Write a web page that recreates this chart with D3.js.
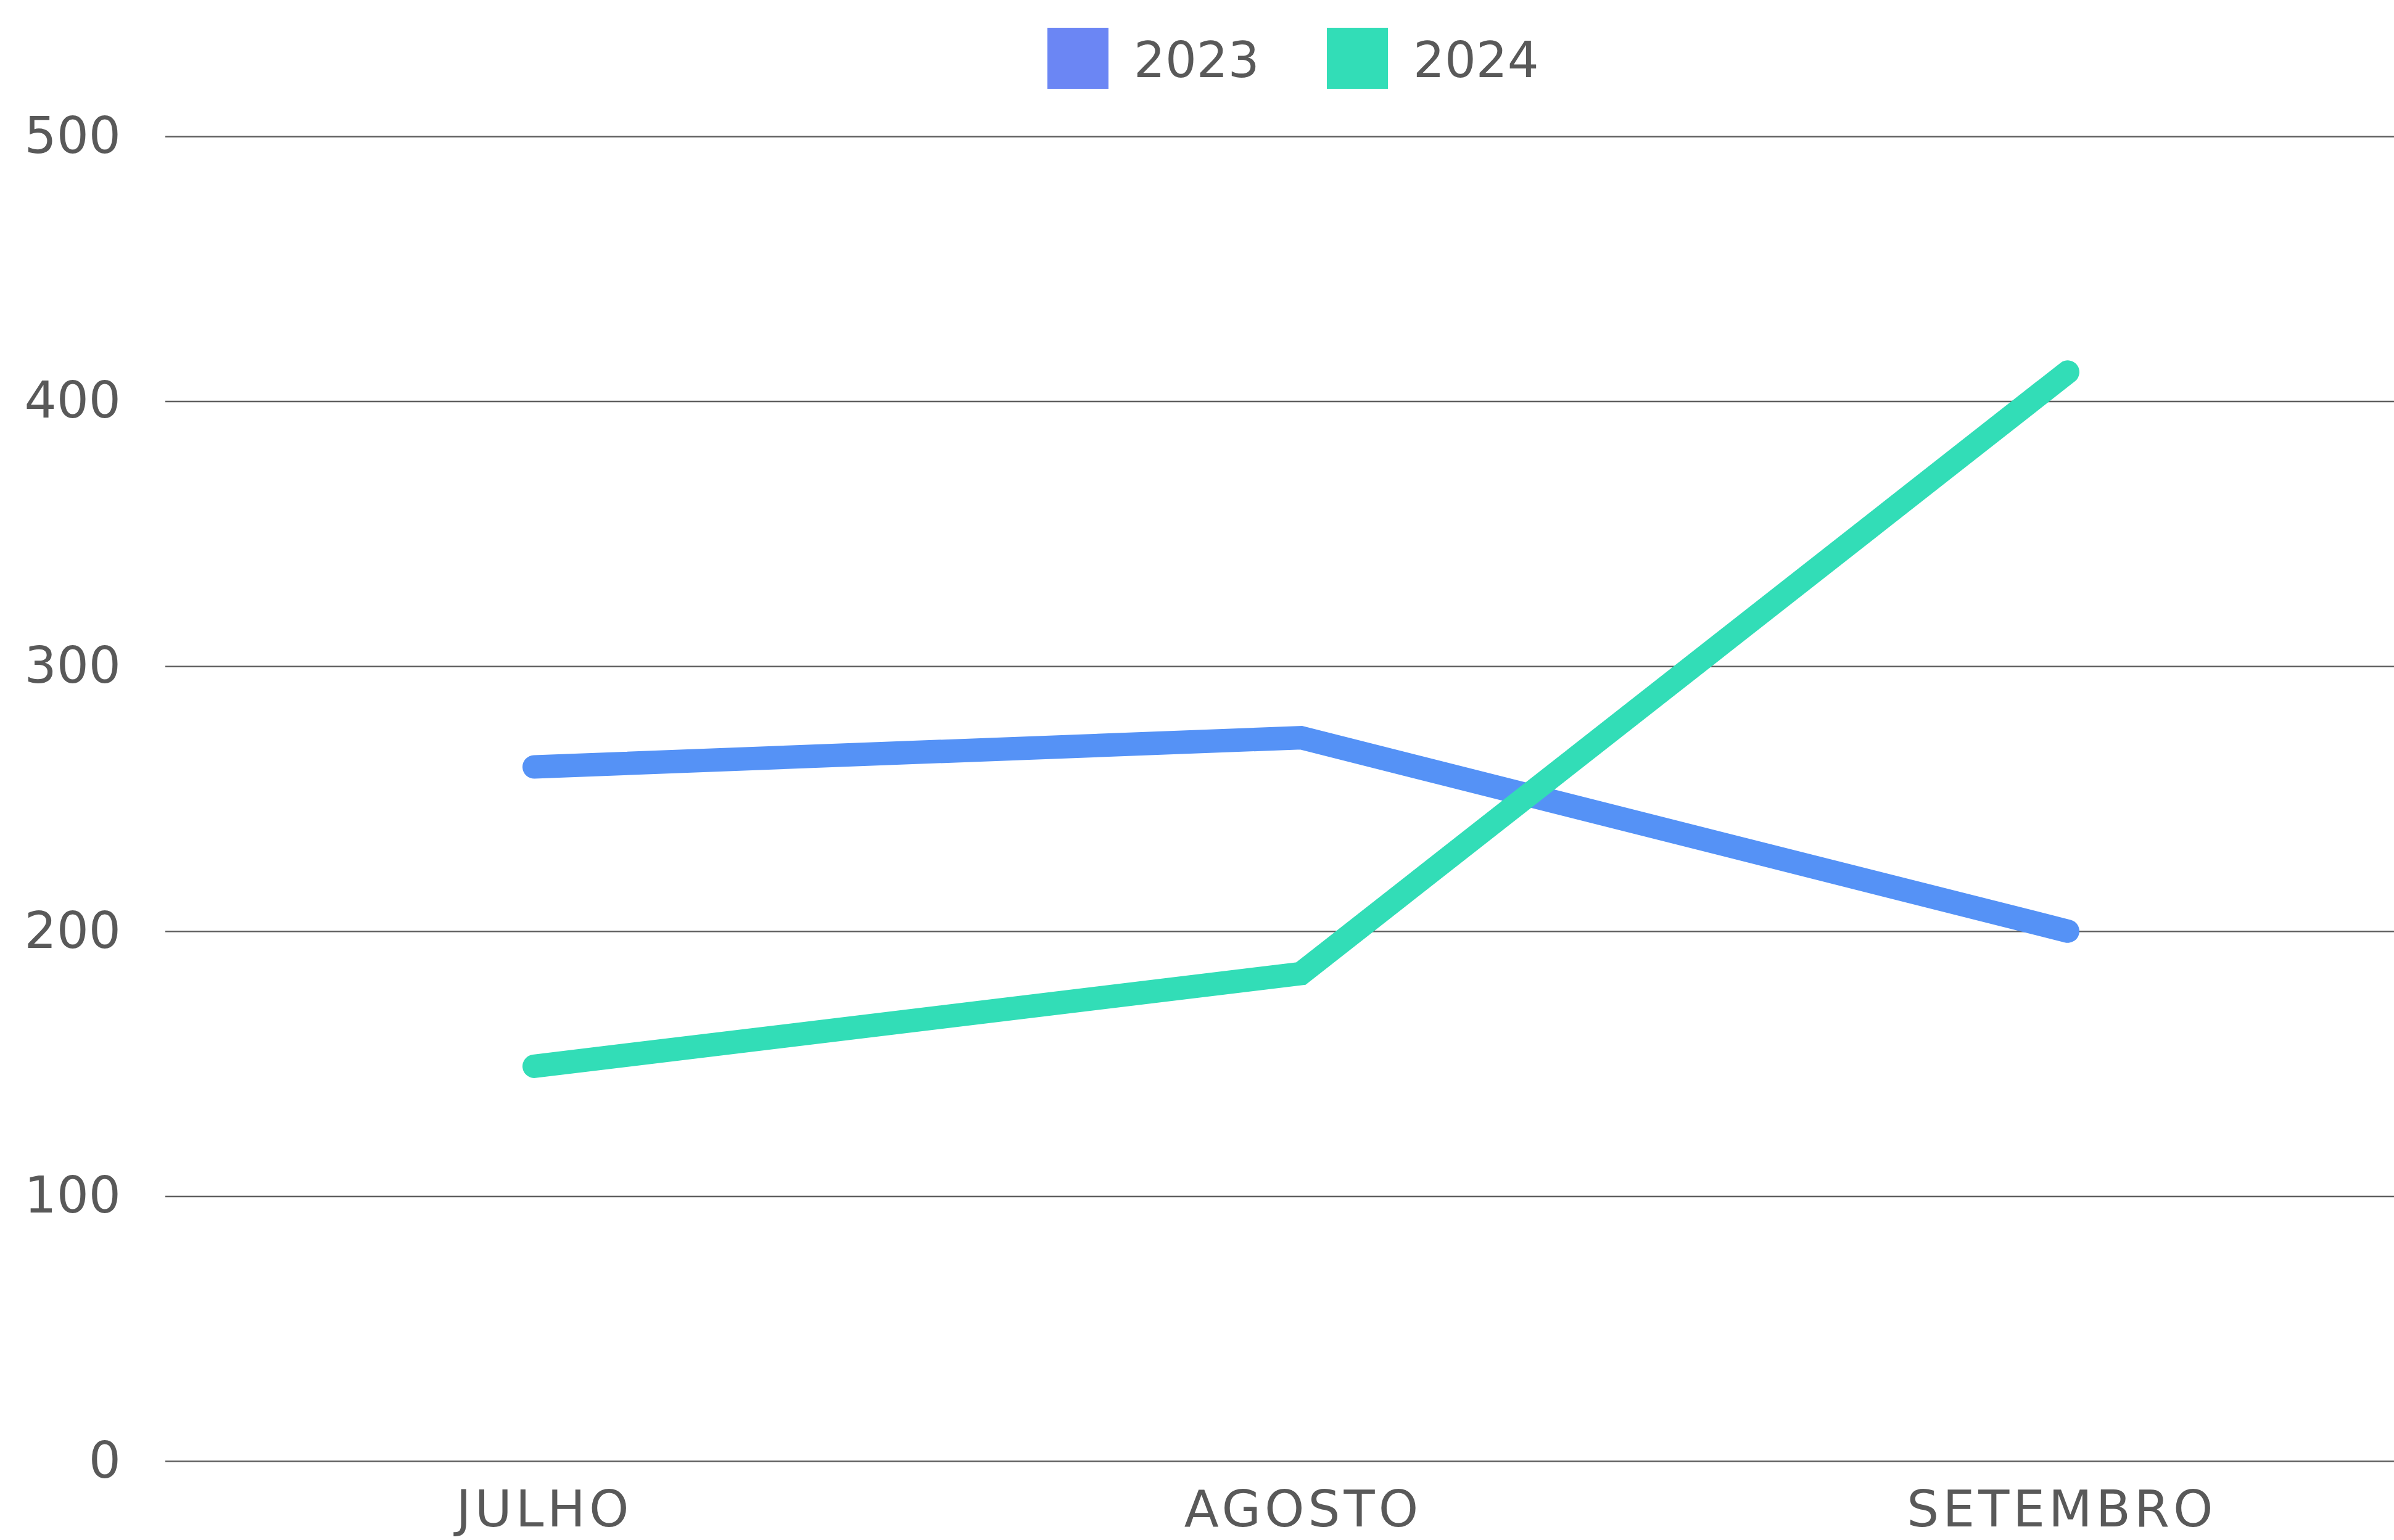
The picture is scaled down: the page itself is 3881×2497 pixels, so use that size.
<!DOCTYPE html>
<html>
<head>
<meta charset="utf-8">
<script src="https://cdn.jsdelivr.net/npm/d3@7"></script>
<style>
	body { margin: 0; background: #fff; }
	svg { display: block; }
	text { font-family: "DejaVu Sans", sans-serif; fill: #595959; }
</style>
</head>
<body>
<svg id="chart"></svg>
<script>
// chart data
var months = ["JULHO", "AGOSTO", "SETEMBRO"];
var years = ["2023", "2024"];
var values2023 = [262, 273, 200];
var values2024 = [149, 184, 411];
var yTicks = [0, 100, 200, 300, 400, 500];

var W = 3881, H = 2497,
	plotLeft = 268,
	plotTop = 221, plotBottom = 2369;

var lineColors = ["#5592f6", "#32ddb7"],
	swatchColors = ["#6b86f4", "#32ddb7"];

var svg = d3.select("#chart")
	.attr("width", W)
	.attr("height", H);

// points and month labels sit on slightly different spacings
var x = d3.scalePoint()
	.domain(months)
	.range([866, 3352]);
var xLabel = d3.scalePoint()
	.domain(months)
	.range([882, 3342]);

var y = d3.scaleLinear()
	.domain([0, 500])
	.range([plotBottom, plotTop]);

// gridlines + y labels
var yAxis = svg.append("g")
	.attr("transform", "translate(" + plotLeft + ",0)")
	.call(d3.axisLeft(y)
		.tickValues(yTicks)
		.tickSize(-(W - plotLeft))
		.tickPadding(72));
yAxis.select(".domain").remove();
yAxis.selectAll(".tick line")
	.attr("stroke", "#5f5f5f")
	.attr("stroke-width", 2.5);
yAxis.selectAll(".tick text")
	.attr("fill", "#595959")
	.style("font-size", "82px")
	.style("font-family", "DejaVu Sans, sans-serif");

// month labels
var xAxis = svg.append("g")
	.attr("transform", "translate(0," + plotBottom + ")")
	.call(d3.axisBottom(xLabel).tickSize(0));
xAxis.select(".domain").remove();
xAxis.selectAll(".tick text")
	.attr("y", 106)
	.attr("dy", 0)
	.attr("fill", "#595959")
	.style("font-size", "82px")
	.style("letter-spacing", "6px")
	.style("font-family", "DejaVu Sans, sans-serif");

// lines
var series = [values2023, values2024];
var line = d3.line()
	.x(function(d, i){ return x(months[i]); })
	.y(function(d){ return y(d); });

svg.append("g").selectAll("path")
	.data(series)
	.enter().append("path")
	.attr("d", line)
	.attr("fill", "none")
	.attr("stroke", function(d, i){ return lineColors[i]; })
	.attr("stroke-width", 38)
	.attr("stroke-linecap", "round")
	.attr("stroke-linejoin", "miter");

// legend
var legendX = [1698, 2151];
var legend = svg.append("g").selectAll("g")
	.data(years)
	.enter().append("g")
	.attr("transform", function(d, i){ return "translate(" + legendX[i] + ",45)"; });
legend.append("rect")
	.attr("width", 99)
	.attr("height", 99)
	.attr("fill", function(d, i){ return swatchColors[i]; });
legend.append("text")
	.attr("x", 140)
	.attr("y", 52)
	.attr("dy", "0.35em")
	.style("font-size", "80px")
	.text(function(d){ return d; });
</script>
</body>
</html>
